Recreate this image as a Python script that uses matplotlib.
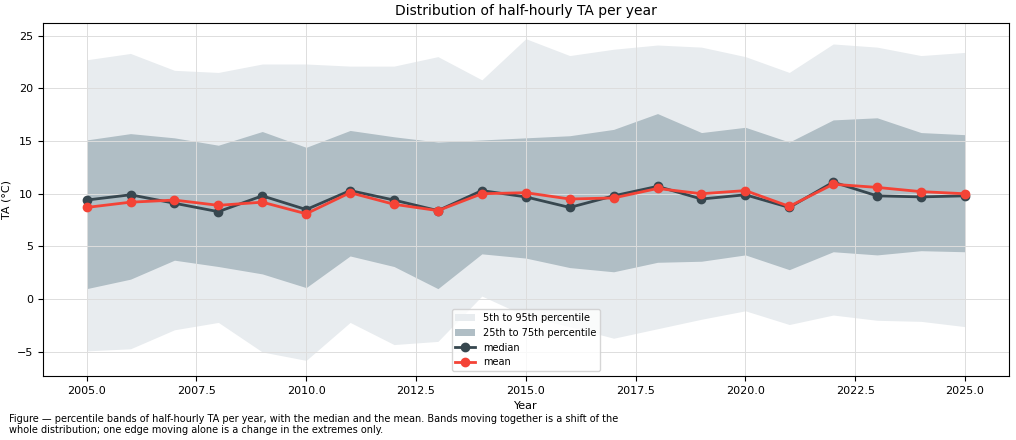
import numpy as np
import matplotlib.pyplot as plt

years = list(range(2005, 2026))
p95 = [22.7, 23.3, 21.7, 21.5, 22.3, 22.3, 22.1, 22.1, 23.0, 20.8, 24.7,
       23.1, 23.7, 24.1, 23.9, 23.0, 21.5, 24.2, 23.9, 23.1, 23.4]
p75 = [15.1, 15.7, 15.3, 14.6, 15.9, 14.4, 16.0, 15.4, 14.9, 15.1, 15.3,
       15.5, 16.1, 17.6, 15.8, 16.3, 14.9, 17.0, 17.2, 15.8, 15.6]
p25 = [1.0, 1.9, 3.7, 3.1, 2.4, 1.1, 4.1, 3.1, 1.0, 4.3, 3.9,
       3.0, 2.6, 3.5, 3.6, 4.2, 2.8, 4.5, 4.2, 4.6, 4.5]
p5 = [-4.9, -4.7, -2.9, -2.2, -5.0, -5.8, -2.2, -4.3, -4.0, 0.3, -1.6,
      -2.6, -3.7, -2.8, -1.9, -1.1, -2.4, -1.5, -2.0, -2.1, -2.6]
median = [9.4, 9.9, 9.1, 8.3, 9.8, 8.5, 10.3, 9.4, 8.4, 10.3, 9.7,
          8.7, 9.8, 10.7, 9.5, 9.9, 8.7, 11.1, 9.8, 9.7, 9.8]
mean = [8.7, 9.2, 9.4, 8.9, 9.2, 8.1, 10.1, 9.0, 8.4, 10.0, 10.1,
        9.5, 9.6, 10.5, 10.0, 10.3, 8.8, 10.9, 10.6, 10.2, 10.0]

fig = plt.figure(figsize=(10.16, 4.4), dpi=100)
ax = fig.add_axes([0.042, 0.145, 0.951, 0.803])
ax.fill_between(years, p5, p95, color='#e8ecef', lw=0, label='5th to 95th percentile')
ax.fill_between(years, p25, p75, color='#b0bec5', lw=0, label='25th to 75th percentile')
ax.plot(years, median, color='#37474f', marker='o', ms=6, lw=2, label='median')
ax.plot(years, mean, color='#f44336', marker='o', ms=6, lw=2, label='mean')
ax.set_ylim(-7.3, 26.2)
ax.set_xlim(2004.0, 2026.0)
ax.grid(color='#dddddd', lw=0.7)
ax.set_title('Distribution of half-hourly TA per year', fontsize=10)
ax.set_xlabel('Year', fontsize=8)
ax.set_ylabel('TA (°C)', fontsize=8)
ax.tick_params(labelsize=8)
ax.legend(loc='lower center', fontsize=7)
fig.text(0.009, 0.015, 'Figure — percentile bands of half-hourly TA per year, with the median and the mean. '
         'Bands moving together is a shift of the\nwhole distribution; one edge moving alone is a change in the extremes only.',
         fontsize=7)
fig.savefig('out.png', dpi=100)
